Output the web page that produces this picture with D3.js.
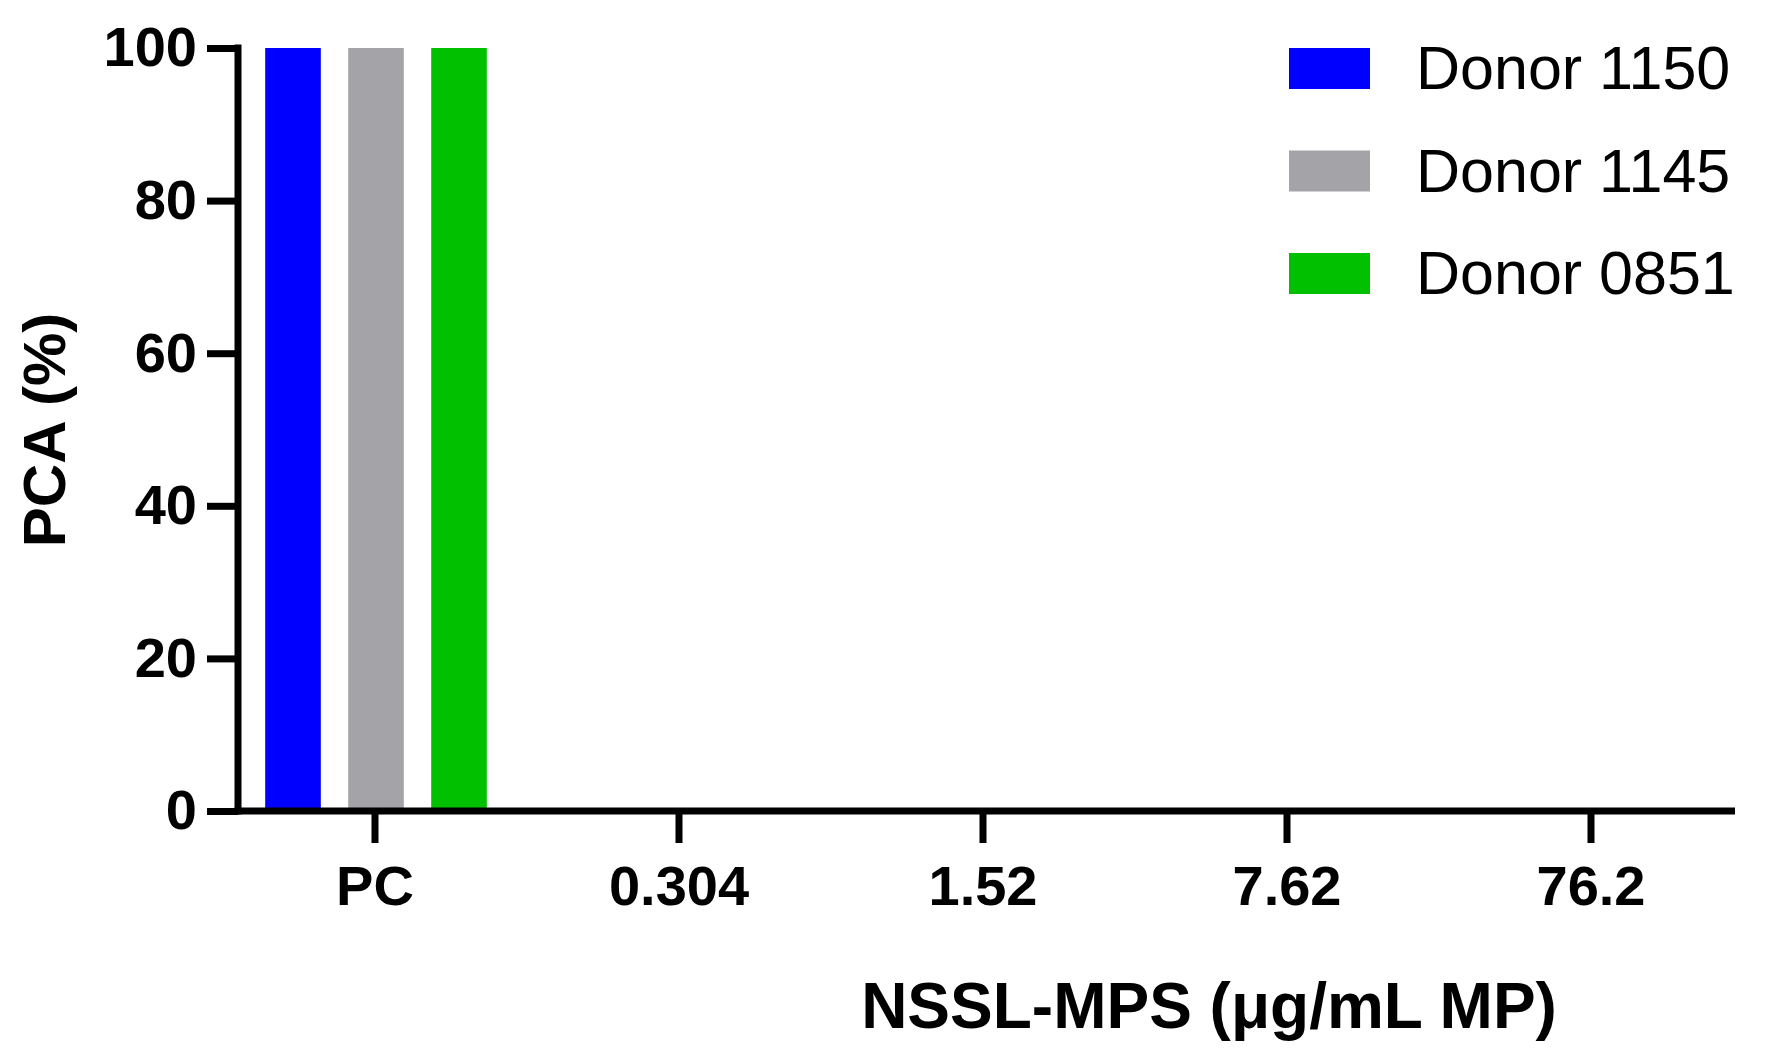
<!DOCTYPE html>
<html>
<head>
<meta charset="utf-8">
<script src="https://cdn.jsdelivr.net/npm/d3@7"></script>
<style>
  html, body { margin: 0; padding: 0; background: #fff; }
  text { font-family: "Liberation Sans", Arial, sans-serif; }
</style>
</head>
<body>
<div id="chart"></div>
<script>
var svgWidth = 1788;
var svgHeight = 1060;

// Data
var categories = ["PC", "0.304", "1.52", "7.62", "76.2"];
var donors = ["Donor 1150", "Donor 1145", "Donor 0851"];
var donor1150 = [100, 0, 0, 0, 0];
var donor1145 = [100, 0, 0, 0, 0];
var donor0851 = [100, 0, 0, 0, 0];
var yTicks = [0, 20, 40, 60, 80, 100];
var colors = ["#0000ff", "#a4a4a8", "#00c000"];

var seriesValues = [donor1150, donor1145, donor0851];

var svg = d3.select("#chart").append("svg")
    .attr("width", svgWidth)
    .attr("height", svgHeight);

// Scales
var xScale = d3.scaleBand()
    .domain(categories)
    .range([223, 1743])
    .paddingInner(0)
    .paddingOuter(0);

var innerScale = d3.scaleBand()
    .domain(donors)
    .range([-124.5, 124.5])
    .paddingInner(0.33)
    .paddingOuter(0.165);

var yScale = d3.scaleLinear()
    .domain([0, 100])
    .range([811, 48]);

var axisX = 238;

// Bars
var barData = [];
categories.forEach(function(c, i) {
    donors.forEach(function(d, j) {
        barData.push({cat: c, donor: d, value: seriesValues[j][i], color: colors[j]});
    });
});

svg.append("g").selectAll("rect")
    .data(barData.filter(d => d.value > 0))
    .enter()
    .append("rect")
    .attr("x", d => xScale(d.cat) + xScale.bandwidth() / 2 + innerScale(d.donor) + 1)
    .attr("y", d => yScale(d.value))
    .attr("width", innerScale.bandwidth())
    .attr("height", d => yScale(0) - yScale(d.value))
    .attr("fill", d => d.color);

// Y axis
var yAxis = d3.axisLeft(yScale)
    .tickValues(yTicks)
    .tickSize(31)
    .tickPadding(10)
    .tickSizeOuter(0);

var yG = svg.append("g")
    .attr("transform", `translate(${axisX}, 0)`)
    .call(yAxis);
yG.select(".domain").remove();
yG.selectAll(".tick line")
    .attr("stroke", "#000")
    .attr("stroke-width", 7);
yG.selectAll(".tick text")
    .attr("font-size", 56)
    .attr("font-weight", "bold")
    .attr("font-family", "Liberation Sans, Arial, sans-serif")
    .attr("fill", "#000");
yG.append("line")
    .attr("x1", 0).attr("x2", 0)
    .attr("y1", yScale(100) - 3.5)
    .attr("y2", yScale(0) + 3.5)
    .attr("stroke", "#000")
    .attr("stroke-width", 7);

// X axis
var xAxis = d3.axisBottom(xScale)
    .tickSize(32)
    .tickPadding(22)
    .tickSizeOuter(0);

var xG = svg.append("g")
    .attr("transform", `translate(0, ${yScale(0)})`)
    .call(xAxis);
xG.select(".domain").remove();
xG.selectAll(".tick line")
    .attr("stroke", "#000")
    .attr("stroke-width", 7);
xG.selectAll(".tick text")
    .attr("font-size", 56)
    .attr("font-weight", "bold")
    .attr("font-family", "Liberation Sans, Arial, sans-serif")
    .attr("fill", "#000");
xG.append("line")
    .attr("x1", axisX - 3.5)
    .attr("x2", 1735)
    .attr("y1", 0).attr("y2", 0)
    .attr("stroke", "#000")
    .attr("stroke-width", 7);

// Axis titles
svg.append("text")
    .attr("transform", "translate(65, 430) rotate(-90)")
    .attr("text-anchor", "middle")
    .attr("font-size", 60)
    .attr("font-weight", "bold")
    .text("PCA (%)");

svg.append("text")
    .attr("x", 1209)
    .attr("y", 1028)
    .attr("text-anchor", "middle")
    .attr("font-size", 64)
    .attr("font-weight", "bold")
    .text("NSSL-MPS (\u03bcg/mL MP)");

// Legend
var legend = svg.append("g").selectAll("g")
    .data(donors)
    .enter()
    .append("g")
    .attr("transform", (d, i) => `translate(1289, ${48 + i * 102.5})`);

legend.append("rect")
    .attr("width", 81)
    .attr("height", 41)
    .attr("fill", (d, i) => colors[i]);

legend.append("text")
    .attr("x", 127)
    .attr("y", 41)
    .attr("font-size", 61)
    .attr("fill", "#000")
    .text(d => d);
</script>
</body>
</html>
